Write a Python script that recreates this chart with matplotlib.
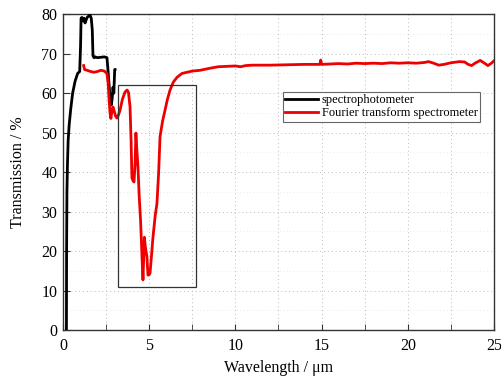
import matplotlib
matplotlib.use('Agg')
import matplotlib.pyplot as plt
from matplotlib.patches import Rectangle
from matplotlib.ticker import MultipleLocator

# spectrophotometer (black)
SP_X = [0.20, 0.21, 0.23, 0.26, 0.30, 0.36, 0.45, 0.56, 0.70, 0.85, 0.97, 1.02, 1.05,
        1.10, 1.16, 1.22, 1.28, 1.34, 1.40, 1.48, 1.57, 1.64, 1.70, 1.74, 1.80, 1.86,
        2.00, 2.20, 2.40, 2.55, 2.60, 2.66, 2.73, 2.80, 2.85, 2.90, 2.95, 3.00, 3.02]
SP_Y = [0, 20, 35, 42, 48, 52, 56, 60, 63, 65, 65.5, 72, 79,
        79.2, 78.3, 79, 77.8, 78.5, 79.2, 79.5, 79.8, 79, 76, 69.5, 69, 69.2,
        69, 69.1, 69.2, 69, 66.5, 63, 59, 57, 58.5, 61.5, 60, 66, 66]

# Fourier transform spectrometer (red)
FT_X = [1.20, 1.25, 1.40, 1.60, 1.80, 2.00, 2.20, 2.40, 2.55, 2.62, 2.68, 2.73, 2.78,
        2.84, 2.90, 2.97, 3.05, 3.13, 3.22, 3.31, 3.45, 3.60, 3.72, 3.80, 3.89, 3.95,
        4.00, 4.07, 4.12, 4.18, 4.23, 4.28, 4.35, 4.42, 4.50, 4.58, 4.64, 4.68, 4.72,
        4.78, 4.87, 4.93, 5.00, 5.05, 5.12, 5.22, 5.35, 5.45, 5.55, 5.63, 5.78, 5.92,
        6.05, 6.21, 6.40, 6.61, 6.90, 7.19, 7.50, 7.95, 8.50, 9.00, 9.50, 10.0, 10.3,
        10.6, 11.0, 12.0, 13.0, 14.0, 14.9, 14.95, 15.0, 15.5, 16.0, 16.5, 17.0, 17.5,
        18.0, 18.5, 19.0, 19.5, 20.0, 20.5, 21.0, 21.2, 21.5, 21.8, 22.1, 22.5, 23.0,
        23.3, 23.5, 23.7, 23.9, 24.2, 24.45, 24.65, 24.85, 25.0]
FT_Y = [67, 66, 65.8, 65.5, 65.3, 65.5, 65.8, 65.6, 65, 62.5, 58, 55, 53.6,
        55.5, 56.5, 55.5, 54.2, 53.7, 54.5, 55.7, 58.5, 60.3, 60.8, 60.2, 56.5, 48,
        38.5, 37.8, 37.5, 42, 49.9, 46, 41.3, 34, 27.8, 19, 12.7, 18, 23.5,
        21, 18.5, 13.9, 14.0, 14.4, 18, 23.5, 29, 32, 40, 49, 53, 55.7,
        58.3, 60.8, 62.8, 64, 65, 65.3, 65.6, 65.8, 66.3, 66.7, 66.8, 66.9, 66.7,
        67.0, 67.1, 67.1, 67.2, 67.3, 67.3, 68.4, 67.3, 67.4, 67.5, 67.4, 67.6, 67.5,
        67.6, 67.5, 67.7, 67.6, 67.7, 67.6, 67.8, 68.0, 67.6, 67.1, 67.3, 67.7, 68.0,
        67.9, 67.3, 67.0, 67.6, 68.3, 67.6, 67.0, 67.6, 68.2]

# highlighted region (x0, x1, y0, y1)
BOX = (3.21, 7.7, 10.9, 62.0)

plt.rcParams['font.family'] = ['Liberation Serif', 'DejaVu Serif']

fig = plt.figure(figsize=(5.01, 3.79), dpi=100)
ax = fig.add_axes([0.1257, 0.1293, 0.8603, 0.8331])

ax.plot(SP_X, SP_Y, color='black', lw=2.0, label='spectrophotometer', zorder=3)
ax.plot(FT_X, FT_Y, color='#ee0000', lw=2.0, label='Fourier transform spectrometer', zorder=3)

ax.add_patch(Rectangle((BOX[0], BOX[2]), BOX[1] - BOX[0], BOX[3] - BOX[2],
                       fill=False, edgecolor='#333333', lw=0.9, zorder=4))

ax.set_xlim(0, 25)
ax.set_ylim(0, 80)
ax.xaxis.set_major_locator(MultipleLocator(5))
ax.xaxis.set_minor_locator(MultipleLocator(2.5))
ax.yaxis.set_major_locator(MultipleLocator(10))
ax.yaxis.set_minor_locator(MultipleLocator(5))
ax.tick_params(which='both', direction='in', labelsize=11.5, top=False, right=False,
               color='#333333')
ax.tick_params(axis='x', which='both', length=4, pad=6)
ax.tick_params(axis='y', which='major', length=5, pad=4)
ax.tick_params(axis='y', which='minor', length=0)
ax.grid(which='major', color='#bbbbbb', ls=(0, (1, 3)), lw=0.7)
ax.grid(which='minor', axis='x', color='#bbbbbb', ls=(0, (1, 3)), lw=0.7)
ax.grid(which='minor', axis='y', color='#e4e4e4', ls=(0, (1, 3)), lw=0.6)
for s in ax.spines.values():
    s.set_color('#333333')
    s.set_linewidth(1.0)

ax.set_xlabel('Wavelength / μm', fontsize=11.5, labelpad=4)
ax.set_ylabel('Transmission / %', fontsize=11.5, labelpad=11)

leg = ax.legend(loc='upper left', bbox_to_anchor=(0.51, 0.755), fontsize=9,
                frameon=True, fancybox=False, edgecolor='#666666', framealpha=1,
                handlelength=2.6, handletextpad=0.3, borderpad=0.2, labelspacing=0.1,
                borderaxespad=0)
leg.get_frame().set_linewidth(0.8)

fig.savefig('out.png', dpi=100)
